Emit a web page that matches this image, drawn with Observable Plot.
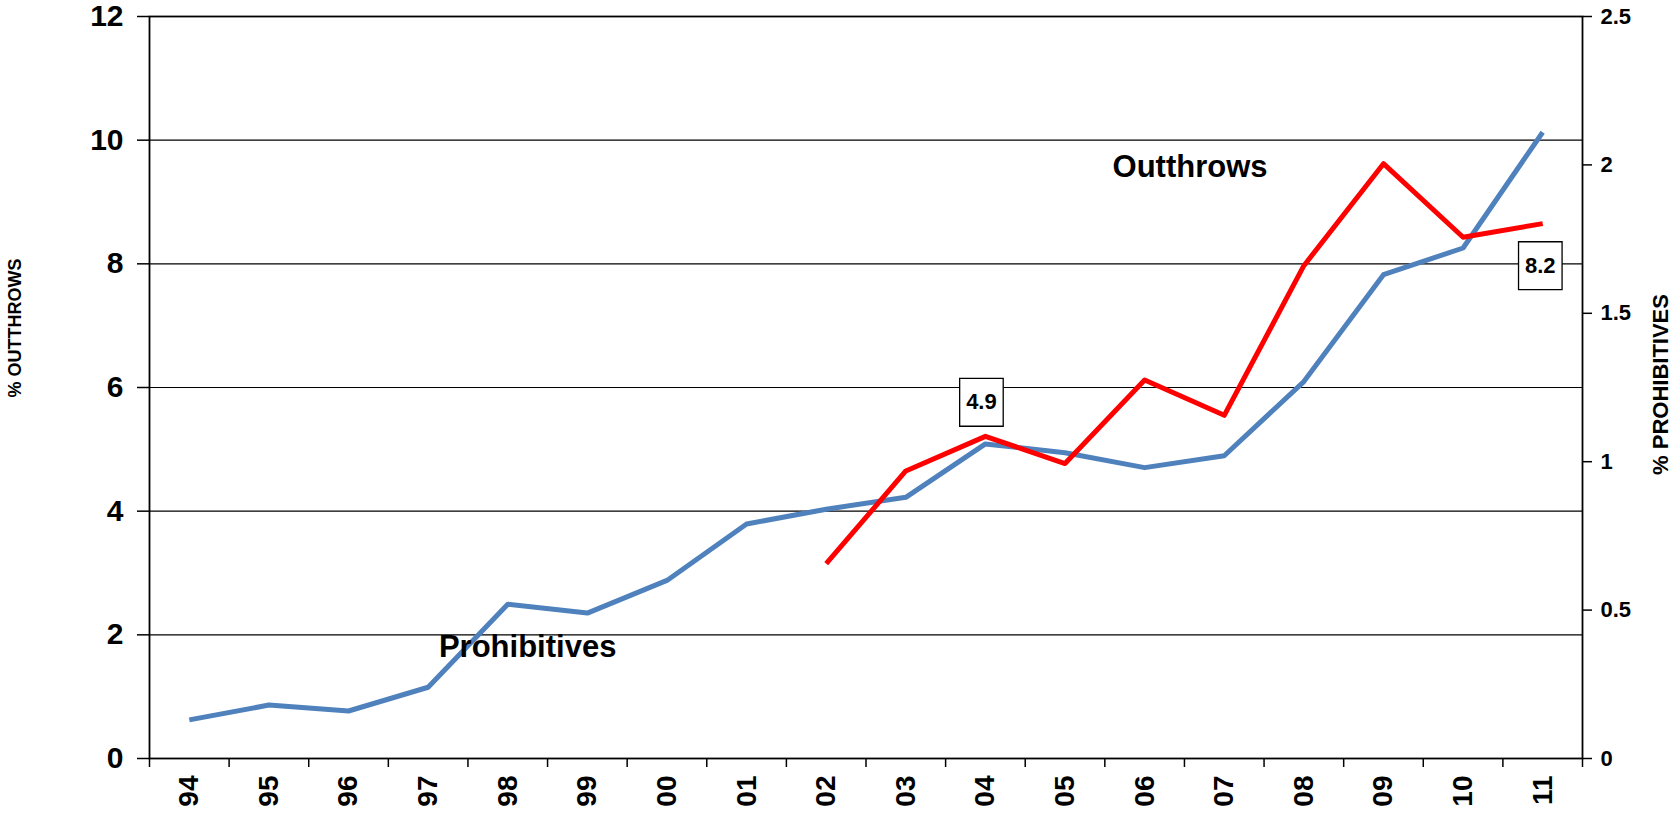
<!DOCTYPE html>
<html><head><meta charset="utf-8">
<script src="https://cdn.jsdelivr.net/npm/d3@7"></script>
<script src="https://cdn.jsdelivr.net/npm/@observablehq/plot@0.6"></script>
<style>
html,body{margin:0;padding:0;background:#fff;}
#chart svg{display:block;}
</style>
</head><body><div id="chart"></div>
<script>
// ---- data ----
const years = ["94","95","96","97","98","99","00","01","02","03","04","05","06","07","08","09","10","11"];
// % prohibitives (right axis)
const prohibitives = [0.13,0.18,0.16,0.24,0.52,0.49,0.60,0.79,0.84,0.88,1.06,1.03,0.98,1.02,1.27,1.63,1.72,2.11];
// % outthrows (left axis)
const outthrowYears = ["02","03","04","05","06","07","08","09","10","11"];
const outthrows = [3.15,4.65,5.21,4.77,6.12,5.55,7.97,9.62,8.43,8.65];
const leftTicks = [0,2,4,6,8,10,12];
const rightTicks = [0,0.5,1,1.5,2,2.5];
const boxLabels = ["4.9","8.2"];
const boxX = [9.95,16.97];
const boxY = [5.76,7.97];
const seriesNames = ["Outthrows","Prohibitives"];
const seriesX = [12.57,4.25];
const seriesY = [9.56,1.80];

const ratio = 12 / 2.5;
const blueData = years.map((y,i)=>({i, v: prohibitives[i]*ratio}));
const redData = outthrowYears.map((y,k)=>({i: years.indexOf(y), v: outthrows[k]}));
const bounds = d3.range(years.length+1).map(k=>k-0.5);
const boxes = boxLabels.map((t,k)=>({t, x: boxX[k], y: boxY[k]}));
const names = seriesNames.map((t,k)=>({t, x: seriesX[k], y: seriesY[k]}));
const boxSymbol = {draw(ctx, size){ const s=Math.sqrt(size); ctx.rect(-s*0.455,-s*0.5,s*0.91,s); }};

const chart = Plot.plot({
  width: 1670, height: 813,
  marginLeft: 149, marginRight: 88, marginTop: 16, marginBottom: 55,
  style: {fontFamily: "'Liberation Sans', Arial, sans-serif", fontWeight: "bold", color: "black", background: "white", overflow: "visible"},
  x: {domain: [-0.5, years.length-0.5], axis: null},
  y: {domain: [0,12], axis: null},
  marks: [
    Plot.ruleY(leftTicks.filter(d=>d>0 && d<12), {stroke:"black", strokeWidth:1.2}),
    Plot.frame({stroke:"black", strokeWidth:1.8}),
    Plot.axisY(leftTicks, {anchor:"left", tickSize:12, tickPadding:14, fontSize:30, strokeWidth:1.5,
      tickFormat: d => String(d)}),
    Plot.axisY(rightTicks.map(d=>d*ratio), {anchor:"right", tickSize:9, tickPadding:9, fontSize:22, strokeWidth:1.5,
      tickFormat: d => String(Math.round(d/ratio*100)/100)}),
    Plot.axisX(bounds, {anchor:"bottom", tickSize:9, tickFormat: ()=>"", strokeWidth:1.5}),
    Plot.axisX(d3.range(years.length), {anchor:"bottom", tickSize:0, tickPadding:17, tickRotate:-90, fontSize:28,
      tickFormat: i=>years[i]}),
    Plot.line(blueData, {x:"i", y:"v", stroke:"#4F81BD", strokeWidth:5, strokeLinecap:"butt", strokeLinejoin:"round"}),
    Plot.line(redData, {x:"i", y:"v", stroke:"#FF0000", strokeWidth:5, strokeLinecap:"butt", strokeLinejoin:"round"}),
    Plot.dot(boxes, {x:"x", y:"y", symbol: boxSymbol, r:27, fill:"white", stroke:"black", strokeWidth:1.3}),
    Plot.text(boxes, {x:"x", y:"y", text:"t", fontSize:22, fill:"black"}),
    Plot.text(names, {x:"x", y:"y", text:"t", fontSize:31, fill:"black"}),
    Plot.text(["% OUTTHROWS"], {frameAnchor:"left", dx:-134, dy:10, rotate:-90, textAnchor:"start", fontSize:18, fill:"black"}),
    Plot.text(["% PROHIBITIVES"], {frameAnchor:"right", dx:78, dy:-3, rotate:-90, textAnchor:"middle", fontSize:22, fill:"black"})
  ]
});
document.getElementById("chart").appendChild(chart);
</script>
</body></html>
